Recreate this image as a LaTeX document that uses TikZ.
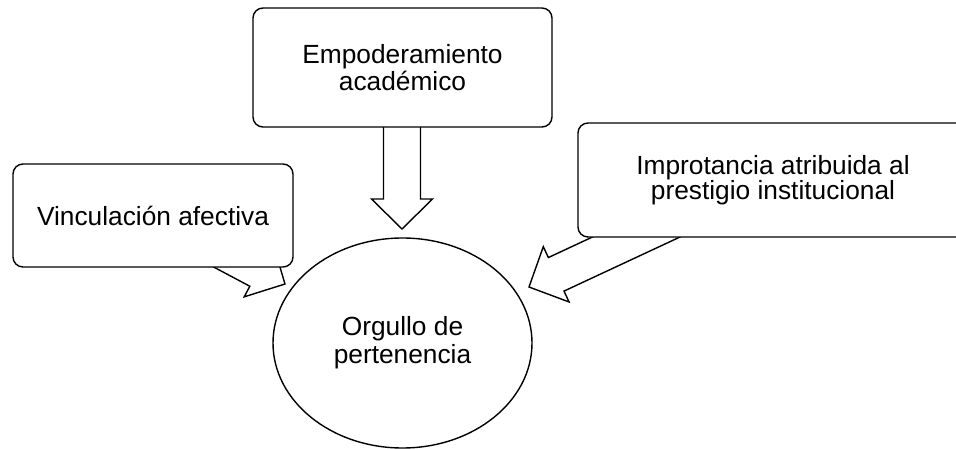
\documentclass[tikz,border=0pt]{standalone}
\usepackage{fontspec}
\setmainfont{Liberation Sans}
\usetikzlibrary{shapes.geometric}
\tikzset{
  outl/.style={draw=black, line width=1.4pt, fill=white},
  roundbox/.style={outl, rectangle, rounded corners=10pt, inner sep=0pt, align=center},
  blockarrow/.style={draw=black, line width=1.4pt, fill=white, line join=miter},
}
\newcommand{\mytxt}[1]{\fontsize{26.3}{#1}\selectfont}
% block arrow: tip point, angle, length
\newcommand{\blockarr}[3]{%
  \begin{scope}[shift={#1}, rotate=#2]
    \draw[blockarrow] (0,0) -- (-30,30.5) -- (-30,18.5) -- (-#3,18.5) -- (-#3,-18.5) -- (-30,-18.5) -- (-30,-30.5) -- cycle;
  \end{scope}}
\begin{document}
\begin{tikzpicture}[x=1pt,y=1pt]
\useasboundingbox (0,0) rectangle (956,448);
\clip (0,0) rectangle (956,448);
\fill[white] (0,0) rectangle (956,448);
% arrows (drawn first, tails hidden under boxes)
\coordinate (tipA) at (402,219);
\coordinate (tipB) at (285,164);
\coordinate (tipC) at (529,161);
\blockarr{(tipA)}{-90}{119}
\blockarr{(tipB)}{-28}{100}
\blockarr{(tipC)}{205}{170}
% boxes
\node[roundbox, minimum width=299pt, minimum height=119pt, font=\mytxt{27}] (emp) at (402.5,380.5) {Empoderamiento\\acad\'emico};
\node[roundbox, minimum width=280pt, minimum height=103pt, font=\mytxt{27}] (vin) at (153,232.5) {Vinculaci\'on afectiva};
\node[roundbox, minimum width=390pt, minimum height=114pt, font=\mytxt{24.5}] (imp) at (773,268) {Improtancia atribuida al\\prestigio institucional};
% ellipse
\node[outl, ellipse, minimum width=259pt, minimum height=210pt, inner sep=0pt, align=center, font=\mytxt{28}] (org) at (402.5,105) {Orgullo de\\pertenencia};
\end{tikzpicture}
\end{document}
